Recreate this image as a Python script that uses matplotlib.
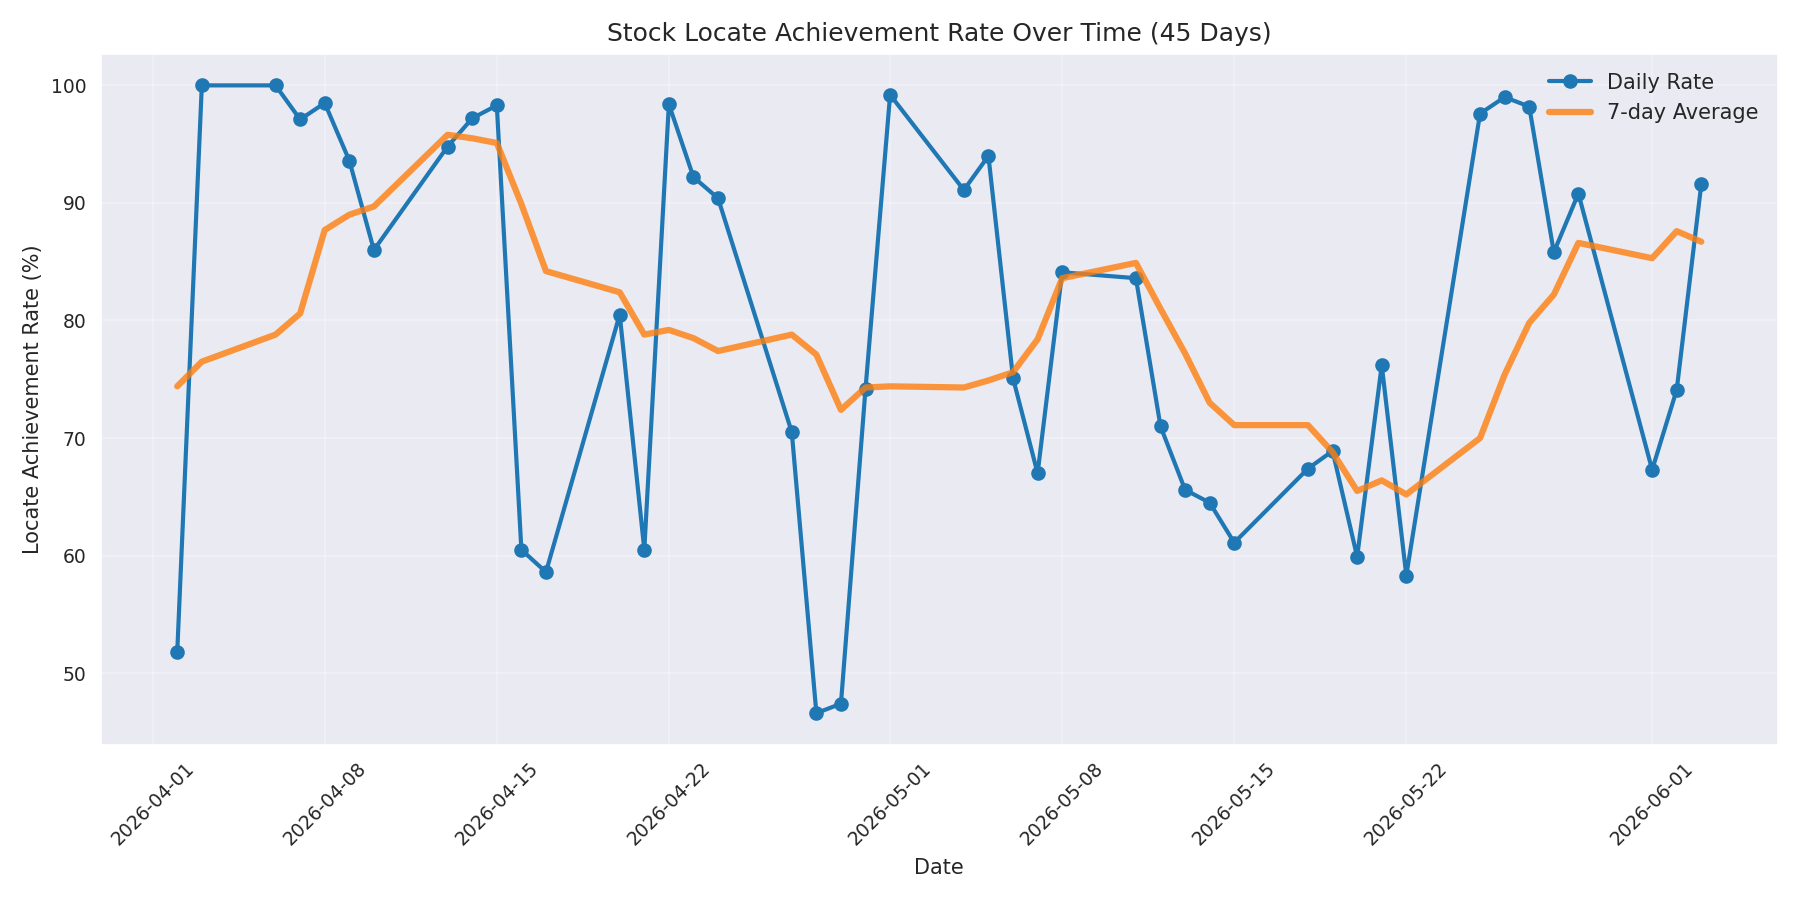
import matplotlib
matplotlib.use("Agg")
import matplotlib.pyplot as plt
import matplotlib.dates as mdates
import numpy as np
import pandas as pd
import seaborn as sns

# trading days shown on the chart
dates = pd.to_datetime([
    "2026-04-02", "2026-04-03",
    "2026-04-06", "2026-04-07", "2026-04-08", "2026-04-09", "2026-04-10",
    "2026-04-13", "2026-04-14", "2026-04-15", "2026-04-16", "2026-04-17",
    "2026-04-20", "2026-04-21", "2026-04-22", "2026-04-23", "2026-04-24",
    "2026-04-27", "2026-04-28", "2026-04-29", "2026-04-30", "2026-05-01",
    "2026-05-04", "2026-05-05", "2026-05-06", "2026-05-07", "2026-05-08",
    "2026-05-11", "2026-05-12", "2026-05-13", "2026-05-14", "2026-05-15",
    "2026-05-18", "2026-05-19", "2026-05-20", "2026-05-21", "2026-05-22",
    "2026-05-25", "2026-05-26", "2026-05-27", "2026-05-28", "2026-05-29",
    "2026-06-01", "2026-06-02", "2026-06-03",
])

daily_rate = [
    51.8, 100.0,
    100.0, 97.1, 98.5, 93.6, 86.0,
    94.8, 97.2, 98.3, 60.5, 58.6,
    80.5, 60.5, 98.4, 92.2, 90.4,
    70.5, 46.6, 47.4, 74.2, 99.2,
    91.1, 94.0, 75.1, 67.0, 84.1,
    83.6, 71.0, 65.6, 64.5, 61.1,
    67.4, 68.9, 59.9, 76.2, 58.3,
    97.6, 99.0, 98.2, 85.8, 90.8,
    67.3, 74.1, 91.6,
]

avg_7day = [
    74.4, 76.5,
    78.8, 80.6, 87.7, 89.0, 89.7,
    95.8, 95.5, 95.1, 89.9, 84.2,
    82.4, 78.8, 79.2, 78.5, 77.4,
    78.8, 77.1, 72.4, 74.3, 74.4,
    74.3, 74.9, 75.6, 78.4, 83.6,
    84.9, 81.0, 77.2, 73.0, 71.1,
    71.1, 68.8, 65.5, 66.4, 65.2,
    70.0, 75.4, 79.8, 82.2, 86.6,
    85.3, 87.6, 86.7,
]

sns.set_style("darkgrid")
plt.rcParams['font.family'] = ['DejaVu Sans']
plt.rcParams['xtick.labelsize'] = 9
plt.rcParams['ytick.labelsize'] = 9
fig, ax = plt.subplots(figsize=(12, 6), dpi=150)

ax.plot(dates, daily_rate, marker="o", linewidth=2, markersize=6,
        color="#1f77b4", label="Daily Rate")
ax.plot(dates, avg_7day, linewidth=3, alpha=0.8,
        color="#ff7f0e", label="7-day Average")

ax.set_title("Stock Locate Achievement Rate Over Time (45 Days)", fontsize=12)
ax.set_xlabel("Date", fontsize=10)
ax.set_ylabel("Locate Achievement Rate (%)", fontsize=10)
ax.xaxis.set_major_locator(mdates.AutoDateLocator())
ax.xaxis.set_major_formatter(mdates.DateFormatter("%Y-%m-%d"))
plt.setp(ax.get_xticklabels(), rotation=45)
ax.grid(True, alpha=0.3)
ax.legend(loc="upper right", frameon=False, fontsize=10)

plt.tight_layout()
plt.savefig("out.png", dpi=150)
